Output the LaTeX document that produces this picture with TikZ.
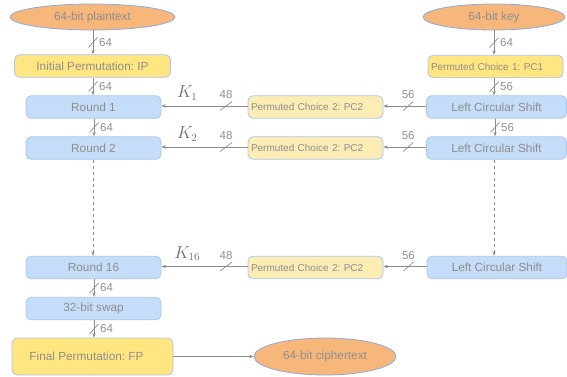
\documentclass[tikz,border=0pt]{standalone}
\usepackage{fontspec}
\setmainfont{Liberation Sans}
\usetikzlibrary{arrows.meta,shapes.geometric}
\definecolor{txt}{HTML}{8E8E8E}
\definecolor{ktxt}{HTML}{6E6E6E}
\definecolor{ln}{HTML}{8C8C8C}
\definecolor{bfill}{HTML}{C5DDF8}
\definecolor{bdraw}{HTML}{A9C6EE}
\definecolor{yfill}{HTML}{FFE680}
\definecolor{pfill}{HTML}{FBEDB3}
\definecolor{ofill}{HTML}{F8B77A}
\definecolor{odraw}{HTML}{8EAADB}
\frenchspacing
\begin{document}
\begin{tikzpicture}[x=1pt,y=-1pt,
  base/.style={rounded corners=5pt, draw=bdraw, line width=0.8pt, text=txt,
    font=\fontsize{11.8}{13}\selectfont, inner sep=0pt},
  bluebox/.style={base, fill=bfill, minimum width=135pt, minimum height=22.5pt},
  lcsbox/.style={base, fill=bfill, minimum width=140pt, minimum height=22.5pt},
  yelbox/.style={base, fill=yfill},
  pcbox/.style={base, fill=#1, font=\fontsize{10}{12}\selectfont, align=left,
    text width=129pt, inner xsep=3pt, minimum height=22.5pt},
  oval/.style={ellipse, draw=odraw, fill=ofill, text=txt, inner sep=0pt, line width=0.8pt,
    font=\fontsize{11.8}{13}\selectfont},
  arr/.style={draw=ln, line width=0.8pt, -{Stealth[length=4.5pt,width=3.4pt]}},
  slashline/.style={draw=ln, line width=0.7pt},
  lbl/.style={text=txt, font=\fontsize{11.5}{13}\selectfont, inner sep=0pt},
  klbl/.style={text=ktxt, font=\fontsize{16}{18}\selectfont, inner sep=0pt}]
\useasboundingbox (0,0) rectangle (567,376);

% left column
\node[oval, minimum width=165pt, minimum height=26pt] (pt) at (92.5,17) {64-bit plaintext};
\node[yelbox, minimum width=156pt, minimum height=22.5pt] (ip) at (92.5,66) {Initial Permutation: IP};
\node[bluebox] (r1) at (93.5,107) {Round 1};
\node[bluebox] (r2) at (93.5,148) {Round 2};
\node[bluebox] (r16) at (93.5,267.5) {Round 16};
\node[bluebox] (sw) at (93.5,308.5) {32-bit swap};
\node[yelbox, minimum width=161pt, minimum height=37pt] (fp) at (92.5,356.5) {\hspace*{-12pt}Final Permutation: FP};
\node[oval, minimum width=142pt, minimum height=37pt] (ct) at (325,356.5) {64-bit ciphertext};

% right column
\node[oval, minimum width=142pt, minimum height=26pt] (key) at (494,17) {64-bit key};
\node[pcbox=yfill] (pc1) at (495.5,66.5) {Permuted Choice 1: PC1};
\node[lcsbox] (l1) at (496.5,107) {Left Circular Shift};
\node[lcsbox] (l2) at (496.5,148) {Left Circular Shift};
\node[lcsbox] (l16) at (497,267.5) {Left Circular Shift};

% middle column
\node[pcbox=pfill] (p1) at (315.5,107) {Permuted Choice 2: PC2};
\node[pcbox=pfill] (p2) at (315.5,148) {Permuted Choice 2: PC2};
\node[pcbox=pfill] (p16) at (315.5,267.5) {Permuted Choice 2: PC2};

% vertical arrows, left
\foreach \a/\b/\n in {pt/ip/va, ip/r1/vb, r1/r2/vc, r16/sw/vd, sw/fp/ve}{
  \draw[arr] ([xshift=0.5pt]\a.south) -- ([xshift=0.5pt]\a.south |- \b.north) coordinate[midway] (\n);
  \draw[slashline] ([shift={(-4.5,5)}]\n) -- ([shift={(4.5,-5)}]\n);
  \node[lbl, anchor=west] at ([xshift=6pt]\n) {64};
}
\draw[arr, dash pattern=on 3pt off 3pt] ([xshift=-0.5pt]r2.south) -- ([xshift=-0.5pt]r2.south |- r16.north);

% vertical arrows, right
\draw[arr] (key.south) -- (key.south |- pc1.north) coordinate[midway] (ka);
\draw[slashline] ([shift={(-4.5,5)}]ka) -- ([shift={(4.5,-5)}]ka);
\node[lbl, anchor=west] at ([xshift=6pt]ka) {64};
\foreach \a/\b/\n in {pc1/l1/kb, l1/l2/kc}{
  \draw[arr] ([xshift=-1.5pt]\a.south) -- ([xshift=-1.5pt]\a.south |- \b.north) coordinate[midway] (\n);
  \draw[slashline] ([shift={(-4.5,5)}]\n) -- ([shift={(4.5,-5)}]\n);
  \node[lbl, anchor=west] at ([xshift=6pt]\n) {56};
}
\draw[arr, dash pattern=on 3pt off 3pt] ([xshift=-2.5pt]l2.south) -- ([xshift=-2.5pt]l2.south |- l16.north);

% horizontal arrows
\foreach \l/\p/\r/\k/\n in {l1/p1/r1/1/h1, l2/p2/r2/2/h2, l16/p16/r16/16/h3}{
  \draw[arr] ([yshift=1pt]\l.west) -- ([yshift=1pt]\l.west -| \p.east) coordinate[pos=0.42] (\n a);
  \draw[slashline] ([shift={(-5,4.5)}]\n a) -- ([shift={(5,-4.5)}]\n a);
  \node[lbl] at ([yshift=11pt]\n a) {56};
  \draw[arr] ([yshift=1pt]\p.west) -- ([yshift=1pt]\p.west -| \r.east)
    coordinate[pos=0.25] (\n b) coordinate[pos=0.7] (\n c);
  \draw[slashline] ([shift={(-6,4.5)}]\n b) -- ([shift={(6,-4.5)}]\n b);
  \node[lbl] at ([yshift=11pt]\n b) {48};
  \node[klbl] at ([yshift=13pt]\n c) {$K_{\k}$};
}

\draw[arr] (fp.east) -- (ct.west);
\end{tikzpicture}
\end{document}
